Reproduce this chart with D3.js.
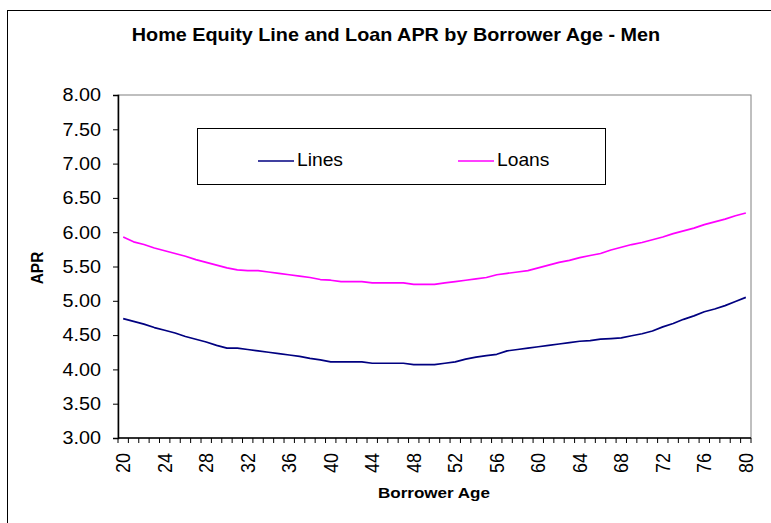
<!DOCTYPE html>
<html>
<head>
<meta charset="utf-8">
<script src="https://cdn.jsdelivr.net/npm/d3@7/dist/d3.min.js"></script>
<style>
  html, body { margin: 0; padding: 0; background: #fff; }
  svg { display: block; font-family: "Liberation Sans", Arial, sans-serif; }
</style>
</head>
<body>
<svg id="chart" width="771" height="523"></svg>
<script>
const ages = d3.range(20, 81);
const linesAPR = [
  4.74, 4.70, 4.66, 4.61, 4.57, 4.53, 4.48, 4.44, 4.40, 4.35,
  4.31, 4.31, 4.29, 4.27, 4.25, 4.23, 4.21, 4.19, 4.16, 4.14,
  4.11, 4.11, 4.11, 4.11, 4.09, 4.09, 4.09, 4.09, 4.07, 4.07,
  4.07, 4.09, 4.11, 4.15, 4.18, 4.20, 4.22, 4.27, 4.29, 4.31,
  4.33, 4.35, 4.37, 4.39, 4.41, 4.42, 4.44, 4.45, 4.46, 4.49,
  4.52, 4.56, 4.62, 4.67, 4.73, 4.78, 4.84, 4.88, 4.93, 4.99,
  5.05
];
const loansAPR = [
  5.93, 5.86, 5.82, 5.77, 5.73, 5.69, 5.65, 5.60, 5.56, 5.52,
  5.48, 5.45, 5.44, 5.44, 5.42, 5.40, 5.38, 5.36, 5.34, 5.31,
  5.30, 5.28, 5.28, 5.28, 5.26, 5.26, 5.26, 5.26, 5.24, 5.24,
  5.24, 5.26, 5.28, 5.30, 5.32, 5.34, 5.38, 5.40, 5.42, 5.44,
  5.48, 5.52, 5.56, 5.59, 5.63, 5.66, 5.69, 5.74, 5.78, 5.82,
  5.85, 5.89, 5.93, 5.98, 6.02, 6.06, 6.11, 6.15, 6.19, 6.24,
  6.28
];
const yTicks = [3.0, 3.5, 4.0, 4.5, 5.0, 5.5, 6.0, 6.5, 7.0, 7.5, 8.0];
const xTickLabels = d3.range(20, 81, 4);
const seriesNames = ["Lines", "Loans"];
const seriesColors = ["#000080", "#FF00FF"];

const svg = d3.select("#chart");
const L = 118, R = 751, T = 95, B = 438;
const SX = 1.1; // horizontal stretch of the original picture's text

// outer chart border
svg.append("rect").attr("x", 7.5).attr("y", 10.5).attr("width", 800).attr("height", 600)
  .attr("fill", "none").attr("stroke", "#000").attr("stroke-width", 1);

const x = d3.scaleBand().domain(ages).range([L, R]).padding(0);
const xc = a => x(a) + x.bandwidth() / 2;
const y = d3.scaleLinear().domain([3, 8]).range([B, T]);

// plot area border (gray)
svg.append("rect").attr("x", L).attr("y", T).attr("width", R - L).attr("height", B - T)
  .attr("fill", "none").attr("stroke", "#808080").attr("stroke-width", 1);

// title
svg.append("text").attr("transform", `translate(396,41) scale(${SX},1)`).attr("text-anchor", "middle")
  .attr("font-size", "18px").attr("font-weight", "bold").text("Home Equity Line and Loan APR by Borrower Age - Men");

// y axis
const yAxis = d3.axisLeft(y).tickValues(yTicks).tickFormat("").tickSize(5);
const gy = svg.append("g").attr("transform", `translate(${L},0)`).call(yAxis);
gy.select(".domain").attr("stroke", "#000").attr("stroke-width", 1.5);
gy.selectAll(".tick line").attr("stroke", "#000");
svg.append("g").selectAll("text").data(yTicks).join("text")
  .attr("transform", d => `translate(101,${y(d)}) scale(${SX},1)`)
  .attr("text-anchor", "end").attr("dy", "0.35em").attr("font-size", "18px")
  .text(d3.format(".2f"));

// x axis: ticks between categories
const gx = svg.append("g").attr("transform", `translate(0,${B})`);
gx.append("line").attr("x1", L).attr("x2", R).attr("y1", 0).attr("y2", 0)
  .attr("stroke", "#000").attr("stroke-width", 1.5);
gx.selectAll("line.tk").data(ages.concat([81])).join("line").attr("class", "tk")
  .attr("x1", d => d === 81 ? R : x(d)).attr("x2", d => d === 81 ? R : x(d))
  .attr("y1", 0).attr("y2", 5).attr("stroke", "#000");
svg.append("g").selectAll("text").data(xTickLabels).join("text")
  .attr("transform", d => `translate(${xc(d)},453) scale(${SX},1) rotate(-90)`)
  .attr("text-anchor", "end").attr("dy", "0.35em").attr("font-size", "18px").text(d => d);

// axis titles
svg.append("text").attr("transform", `translate(43,268) scale(${SX},1) rotate(-90)`)
  .attr("text-anchor", "middle").attr("font-size", "15.5px").attr("font-weight", "bold").text("APR");
svg.append("text").attr("transform", `translate(434,498) scale(${SX},1)`).attr("text-anchor", "middle")
  .attr("font-size", "15.5px").attr("font-weight", "bold").text("Borrower Age");

// lines
const line = d3.line().x((d, i) => xc(ages[i])).y(d => y(d));
[linesAPR, loansAPR].forEach((s, i) => {
  svg.append("path").datum(s).attr("d", line).attr("fill", "none")
    .attr("stroke", seriesColors[i]).attr("stroke-width", 1.7).attr("stroke-linejoin", "round");
});

// legend
svg.append("rect").attr("x", 197.5).attr("y", 128.5).attr("width", 408).attr("height", 56)
  .attr("fill", "#fff").attr("stroke", "#000").attr("stroke-width", 1);
const legX = [258, 458];
seriesNames.forEach((n, i) => {
  svg.append("line").attr("x1", legX[i]).attr("x2", legX[i] + 36).attr("y1", 161).attr("y2", 161)
    .attr("stroke", seriesColors[i]).attr("stroke-width", 1.7);
  svg.append("text").attr("transform", `translate(${legX[i] + 39},166) scale(${SX},1)`)
    .attr("font-size", "17.5px").text(n);
});
</script>
</body>
</html>
